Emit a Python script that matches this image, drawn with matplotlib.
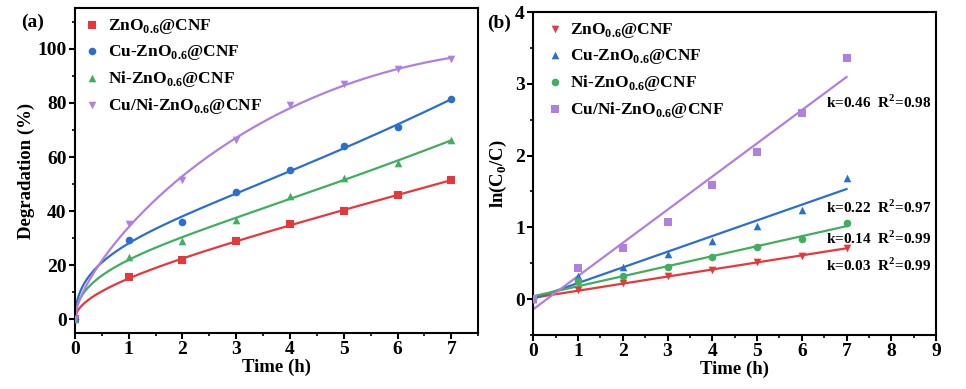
import numpy as np
import matplotlib
matplotlib.use('Agg')
import matplotlib.pyplot as plt
from matplotlib.ticker import MultipleLocator

plt.rcParams['font.family'] = ['Liberation Serif', 'DejaVu Serif']
plt.rcParams['font.weight'] = 'bold'
plt.rcParams['mathtext.fontset'] = 'custom'
plt.rcParams['mathtext.rm'] = 'Liberation Serif:bold'
plt.rcParams['mathtext.bf'] = 'Liberation Serif:bold'

# ---- data -------------------------------------------------------------
time = [0, 1, 2, 3, 4, 5, 6, 7]

names = [r'ZnO$_{\mathbf{0.6}}$@CNF', r'Cu-ZnO$_{\mathbf{0.6}}$@CNF',
         r'Ni-ZnO$_{\mathbf{0.6}}$@CNF', r'Cu/Ni-ZnO$_{\mathbf{0.6}}$@CNF']

# (a) degradation (%)
deg_zno = [0, 15.5, 21.9, 28.8, 35.4, 40.1, 46.1, 51.4]
deg_cu = [0, 29.3, 36.0, 47.1, 55.2, 64.1, 71.1, 81.5]
deg_ni = [0, 23.1, 29.0, 36.9, 45.6, 52.4, 57.8, 66.2]
deg_cuni = [0, 35.4, 51.4, 66.2, 79.3, 87.0, 92.4, 96.3]

# (b) ln(C0/C)
ln_zno = [0, 0.13, 0.22, 0.32, 0.41, 0.51, 0.60, 0.71]
ln_cu = [0, 0.32, 0.44, 0.63, 0.81, 1.02, 1.24, 1.69]
ln_ni = [0, 0.25, 0.32, 0.44, 0.59, 0.72, 0.84, 1.06]
ln_cuni = [0, 0.43, 0.71, 1.08, 1.59, 2.05, 2.59, 3.36]

k_labels = ['k=0.03  R$^{\\mathbf{2}}$=0.99', 'k=0.22  R$^{\\mathbf{2}}$=0.97',
            'k=0.14  R$^{\\mathbf{2}}$=0.99', 'k=0.46  R$^{\\mathbf{2}}$=0.98']
k_pos_y = [0.47, 1.28, 0.85, 2.74]

colors = ['#e8373a', '#2a6fd0', '#3fae5f', '#b07fe0']

t = np.array(time)

fig = plt.figure(figsize=(9.66, 3.89), dpi=100)
ax1 = fig.add_axes([0.0776, 0.144, 0.4174, 0.835])
ax2 = fig.add_axes([0.552, 0.139, 0.417, 0.830])

# ---- panel (a) --------------------------------------------------------
marks_a = ['s', 'o', '^', 'v']
ts = np.linspace(0, 7, 200)
for d, c, m, n in zip([deg_zno, deg_cu, deg_ni, deg_cuni], colors, marks_a, names):
    d = np.array(d)
    p = np.polyfit(np.sqrt(t), d, 3)
    ax1.plot(ts, np.polyval(p, np.sqrt(ts)), color=c, lw=1.6)
    ax1.scatter(t, d, color=c, marker=m, s=30, zorder=3, label=n, linewidths=0)

ax1.set_xlim(0, 7.5)
ax1.set_ylim(-5, 115)
ax1.set_xticks(range(0, 8))
ax1.set_yticks(range(0, 101, 20))
ax1.xaxis.set_minor_locator(MultipleLocator(0.5))
ax1.yaxis.set_minor_locator(MultipleLocator(10))
ax1.set_xlabel('Time (h)', fontsize=13.5, fontweight='bold', labelpad=0)
ax1.set_ylabel('Degradation (%)', fontsize=13.5, fontweight='bold', labelpad=2)
ax1.legend(loc='upper left', frameon=False, fontsize=12.5, handletextpad=0.4,
           borderaxespad=0.1, labelspacing=0.4, handlelength=1.0,
           bbox_to_anchor=(0.0, 1.0))
ax1.text(-0.105, 0.955, '(a)', transform=ax1.transAxes, fontsize=14,
         fontweight='bold', ha='center', va='center')

# ---- panel (b) --------------------------------------------------------
marks_b = ['v', '^', 'o', 's']
tl = np.linspace(0, 7, 50)
for y, c, m, n in zip([ln_zno, ln_cu, ln_ni, ln_cuni], colors, marks_b, names):
    y = np.array(y)
    p = np.polyfit(t, y, 1)
    ax2.plot(tl, np.polyval(p, tl), color=c, lw=1.6)
    ax2.scatter(t, y, color=c, marker=m, s=30, zorder=3, label=n, linewidths=0)

for lab, yy in zip(k_labels, k_pos_y):
    ax2.text(6.53, yy, lab, fontsize=11, fontweight='bold', va='center')

ax2.set_xlim(0, 9)
ax2.set_ylim(-0.5, 4)
ax2.set_xticks(range(0, 10))
ax2.set_yticks(range(0, 5))
ax2.xaxis.set_minor_locator(MultipleLocator(0.5))
ax2.yaxis.set_minor_locator(MultipleLocator(0.5))
ax2.set_xlabel('Time (h)', fontsize=13.5, fontweight='bold', labelpad=0)
ax2.set_ylabel(r'ln(C$_{\mathbf{0}}$/C)', fontsize=13.5, fontweight='bold', labelpad=4)
ax2.legend(loc='upper left', frameon=False, fontsize=12.5, handletextpad=0.4,
           borderaxespad=0.1, labelspacing=0.4, handlelength=1.0,
           bbox_to_anchor=(0.01, 1.0))
ax2.text(-0.085, 0.965, '(b)', transform=ax2.transAxes, fontsize=14,
         fontweight='bold', ha='center', va='center')

for ax in (ax1, ax2):
    for s in ax.spines.values():
        s.set_linewidth(1.5)
    ax.tick_params(which='major', direction='out', length=4, width=1.5,
                   labelsize=14, top=False, right=False, pad=2)
    ax.tick_params(which='minor', direction='out', length=2.5, width=1.2,
                   top=False, right=False)
    for lbl in ax.get_xticklabels() + ax.get_yticklabels():
        lbl.set_fontweight('bold')

fig.savefig('out.png', dpi=100)
